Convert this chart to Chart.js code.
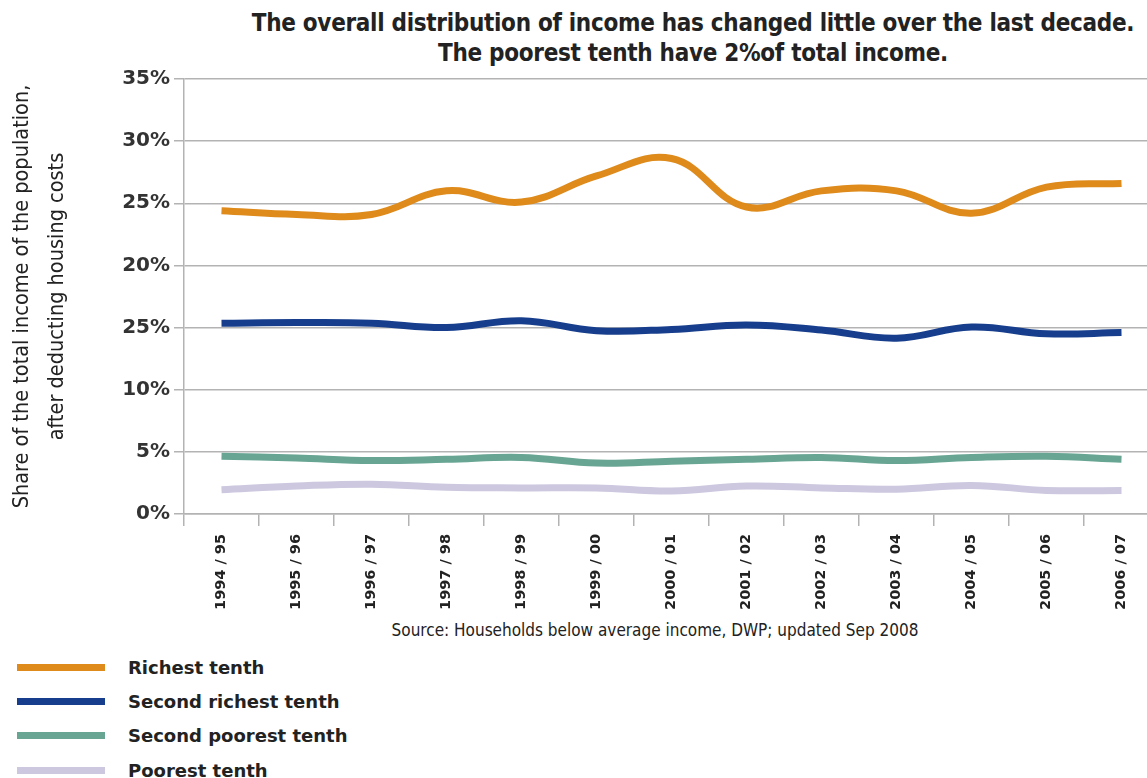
<!DOCTYPE html>
<html>
<head>
<meta charset="utf-8">
<script src="https://cdn.jsdelivr.net/npm/chart.js@4"></script>
<style>
  html, body { margin: 0; padding: 0; background: #fff; overflow: hidden; }
  body { width: 1147px; height: 778px; position: relative; }
  #wrap { position: absolute; left: 0; top: 0; width: 1160px; height: 620px; }
  #title {
    position: absolute; left: 230px; width: 926px; top: 8px; white-space: nowrap;
    text-align: center; font: bold 24px "Liberation Sans Narrow", "DejaVu Sans Condensed", sans-serif;
    letter-spacing: -0.3px; color: #222; line-height: 30px;
  }
  #source {
    position: absolute; left: 300px; width: 710px; top: 620px; text-align: center;
    font: 17px "Liberation Sans Narrow", "DejaVu Sans Condensed", sans-serif; color: #222;
  }
  #legend { position: absolute; left: 17px; top: 650px; }
  .item { height: 34.3px; display: flex; align-items: center; }
  .swatch { width: 88px; height: 7px; margin-right: 23px; }
  .label { font: bold 18px "DejaVu Sans", sans-serif; color: #222; }
</style>
</head>
<body>
<div id="title">The overall distribution of income has changed little over the last decade.<br>The poorest tenth have 2%of total income.</div>
<div id="wrap"><canvas id="chart"></canvas></div>
<div id="source">Source: Households below average income, DWP; updated Sep 2008</div>
<div id="legend"></div>
<script>
const years = [
    '1994 / 95', '1995 / 96', '1996 / 97', '1997 / 98', '1998 / 99', '1999 / 00', '2000 / 01',
    '2001 / 02', '2002 / 03', '2003 / 04', '2004 / 05', '2005 / 06', '2006 / 07',
];
const richest = [24.4, 24.1, 24.1, 26.0, 25.1, 27.2, 28.6, 24.7, 26.0, 26.0, 24.2, 26.3, 26.6];
const secondRichest = [15.35, 15.4, 15.35, 15.0, 15.55, 14.75, 14.85, 15.2, 14.8, 14.15, 15.05, 14.5, 14.6];
const secondPoorest = [4.65, 4.5, 4.3, 4.4, 4.55, 4.1, 4.25, 4.4, 4.55, 4.3, 4.55, 4.65, 4.4];
const poorest = [1.95, 2.25, 2.4, 2.15, 2.1, 2.1, 1.85, 2.25, 2.1, 2.0, 2.3, 1.9, 1.9];
const yTickLabels = ['0%', '5%', '10%', '25%', '20%', '25%', '30%', '35%'];

const series = [
    { name: 'Richest tenth', values: richest, color: '#de8b1c' },
    { name: 'Second richest tenth', values: secondRichest, color: '#173e8c' },
    { name: 'Second poorest tenth', values: secondPoorest, color: '#68a592' },
    { name: 'Poorest tenth', values: poorest, color: '#cdc8df' },
];

const gridColor = '#b3b3b3';
const narrow = '"Liberation Sans Narrow", "DejaVu Sans Condensed", sans-serif';

var ctx = document.getElementById('chart');
var chart = new Chart(ctx, {
    type: 'line',
    data: {
        labels: years,
        datasets: series.map(function (s) {
            return {
                label: s.name,
                data: s.values,
                borderColor: s.color,
                backgroundColor: s.color,
                borderWidth: 7,
                tension: 0.4,
                pointRadius: 0,
                fill: false,
            };
        }),
    },
    options: {
        responsive: true,
        maintainAspectRatio: false,
        animation: false,
        layout: { padding: { top: 79, left: 0, right: 1, bottom: 0 } },
        plugins: {
            legend: { display: false },
            tooltip: { enabled: false },
        },
        scales: {
            x: {
                offset: true,
                grid: { offset: true, drawOnChartArea: false, color: gridColor, lineWidth: 1.5, tickLength: 12 },
                border: { color: gridColor, width: 1.5 },
                ticks: {
                    minRotation: 90, maxRotation: 90, padding: 8, color: '#222',
                    font: { family: 'DejaVu Sans', weight: 'bold', size: 14.5 },
                },
                afterFit: function (scale) { scale.height = 106; },
            },
            y: {
                min: 0, max: 35,
                grid: { color: gridColor, lineWidth: 1.5, tickLength: 10 },
                border: { color: gridColor, width: 1.5 },
                ticks: {
                    stepSize: 5, padding: 4, color: '#333',
                    font: { family: 'DejaVu Sans', weight: 'bold', size: 20 },
                    callback: function (value) { return yTickLabels[value / 5]; },
                },
                title: {
                    display: true,
                    text: ['Share of the total income of the population,', 'after deducting housing costs'],
                    color: '#222',
                    font: { family: narrow, size: 21.5, lineHeight: 1.62 },
                    padding: { top: 5, bottom: 0 },
                },
                afterFit: function (scale) { scale.width = 184; },
            },
        },
    },
});

// legend built from the datasets
var legend = document.getElementById('legend');
chart.data.datasets.forEach(function (ds) {
    var row = document.createElement('div');
    row.className = 'item';
    row.innerHTML = '<div class="swatch" style="background:' + ds.borderColor + '"></div>' +
        '<div class="label">' + ds.label + '</div>';
    legend.appendChild(row);
});
</script>
</body>
</html>
